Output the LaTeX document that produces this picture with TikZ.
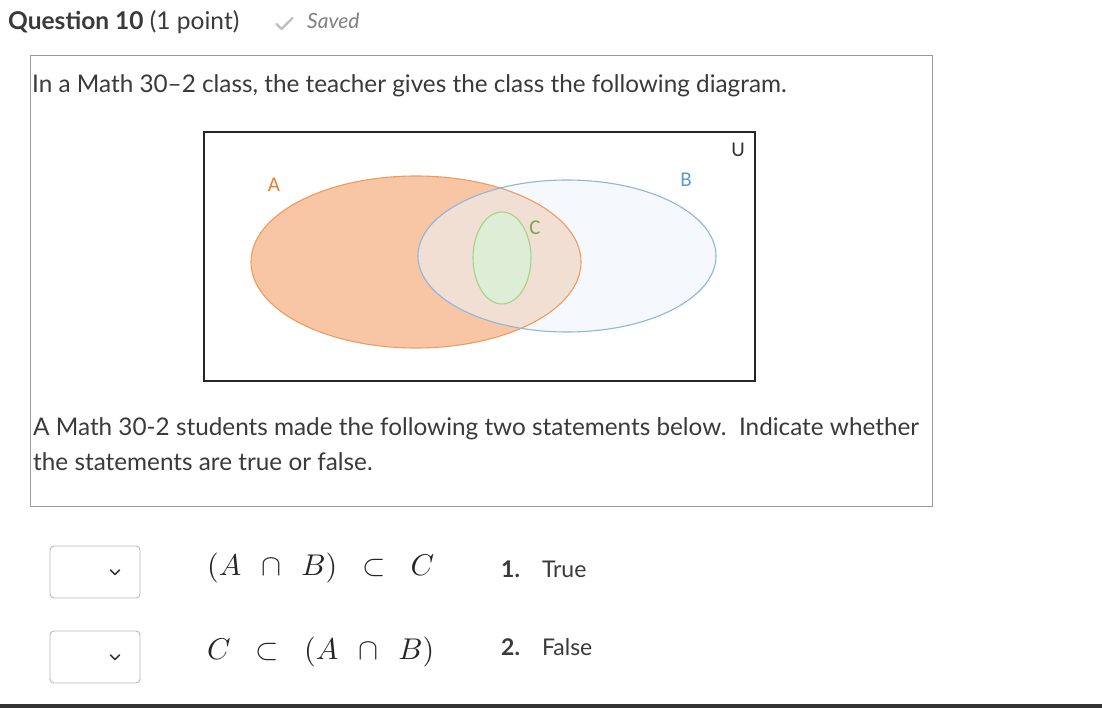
\documentclass[tikz,border=0pt]{standalone}
\usepackage[no-math]{fontspec}
\setmainfont{Lato}
\newfontfamily\labelfont{Carlito}
\usetikzlibrary{positioning}
\definecolor{txtgray}{HTML}{3A3A3A}
\definecolor{orangeA}{HTML}{ED7D31}
\definecolor{lineA}{HTML}{EE9B62}
\definecolor{fillA}{HTML}{F8C6A4}
\definecolor{blueB}{HTML}{5B9BD5}
\definecolor{lineB}{HTML}{8FB6E0}
\definecolor{fillB}{HTML}{EDF4FB}
\definecolor{greenC}{HTML}{70AD47}
\definecolor{lineC}{HTML}{A8D08D}
\definecolor{fillC}{HTML}{DDEDD6}
\newcommand{\bigmath}[1]{\scalebox{3}{\fontsize{10}{12}\selectfont$#1$}}
\newcommand{\bcap}{\;\,\cap\;\,}
\newcommand{\bsub}{\;\;\subset\;\;}
\tikzset{
  txt/.style={anchor=base west, inner sep=0pt, text=txtgray, font=\fontsize{24.3}{28}\selectfont},
  maths/.style={anchor=base west, inner sep=0pt, text=black!85},
  setlabel/.style={inner sep=0pt, font=\labelfont\fontsize{21}{23}\selectfont},
  dropbox/.style={draw=gray!55, line width=0.9pt, rounded corners=4pt},
}
\begin{document}
\begin{tikzpicture}[x=1pt,y=-1pt]
\useasboundingbox[fill=white] (0,0) rectangle (1102,708);

% header
\node[txt, font=\fontsize{24.5}{28}\selectfont\bfseries] (qnum) at (8,30) {Question 10};
\node[txt, font=\fontsize{24.5}{28}\selectfont, right=6pt of qnum.base east, anchor=base west] (pts) {(1 point)};
\draw[gray!50, line width=2.2pt, line cap=round, line join=round] (276.5,24) -- (281.5,29) -- (292.5,18);
\node[txt, text=gray, font=\fontsize{21}{24}\selectfont\itshape] (saved) at (307,29) {Saved};

% question frame
\draw[gray!80, line width=0.9pt] (30,55) rectangle (932,506);
\node[txt] (intro) at (32,93) {In a Math 30–2 class, the teacher gives the class the following diagram.};

% venn diagram
\draw[black!85, line width=1.3pt] (204,132) rectangle (755,381);
\node[setlabel, text=black!80] (U) at (738,150) {U};
\fill[fillA] (416,262) coordinate (A) ellipse (165 and 86);
\fill[fillB, opacity=0.55] (567,256) coordinate (B) ellipse (149 and 76);
\draw[lineA, line width=1.1pt] (A) ellipse (165 and 86);
\draw[lineB, line width=1.1pt] (B) ellipse (149 and 76);
\filldraw[fill=fillC, draw=lineC, line width=1.1pt] (502,258) coordinate (C) ellipse (29 and 46);
\node[setlabel, text=orangeA] (labA) at (274,185) {A};
\node[setlabel, text=blueB] (labB) at (686,180) {B};
\node[setlabel, text=greenC] (labC) at (535,228) {C};

\node[txt] (stmt1) at (33,435) {A Math 30-2 students made the following two statements below.\ \ Indicate whether};
\node[txt] (stmt2) at (33,470) {the statements are true or false.};

% answer rows
\foreach \y/\n in {546/1,631/2}{
  \draw[dropbox] (50,\y) rectangle (140,\y+52);
  \draw[txtgray, line width=1.6pt, line cap=round, line join=round]
    (110.5,\y+24) -- (115,\y+28.5) -- (119.5,\y+24);
}
\node[maths] (s1) at (207,575) {\bigmath{(A \bcap B) \bsub C}};
\node[maths] (s2) at (207,659) {\bigmath{C \bsub (A \bcap B)}};
\node[txt, font=\fontsize{23}{26}\selectfont] (opt1) at (501,577) {\textbf{1.}\hspace{22pt}True};
\node[txt, font=\fontsize{23}{26}\selectfont] (opt2) at (501,655) {\textbf{2.}\hspace{22pt}False};

\fill[black!80] (0,704) rectangle (1102,708);
\end{tikzpicture}
\end{document}
